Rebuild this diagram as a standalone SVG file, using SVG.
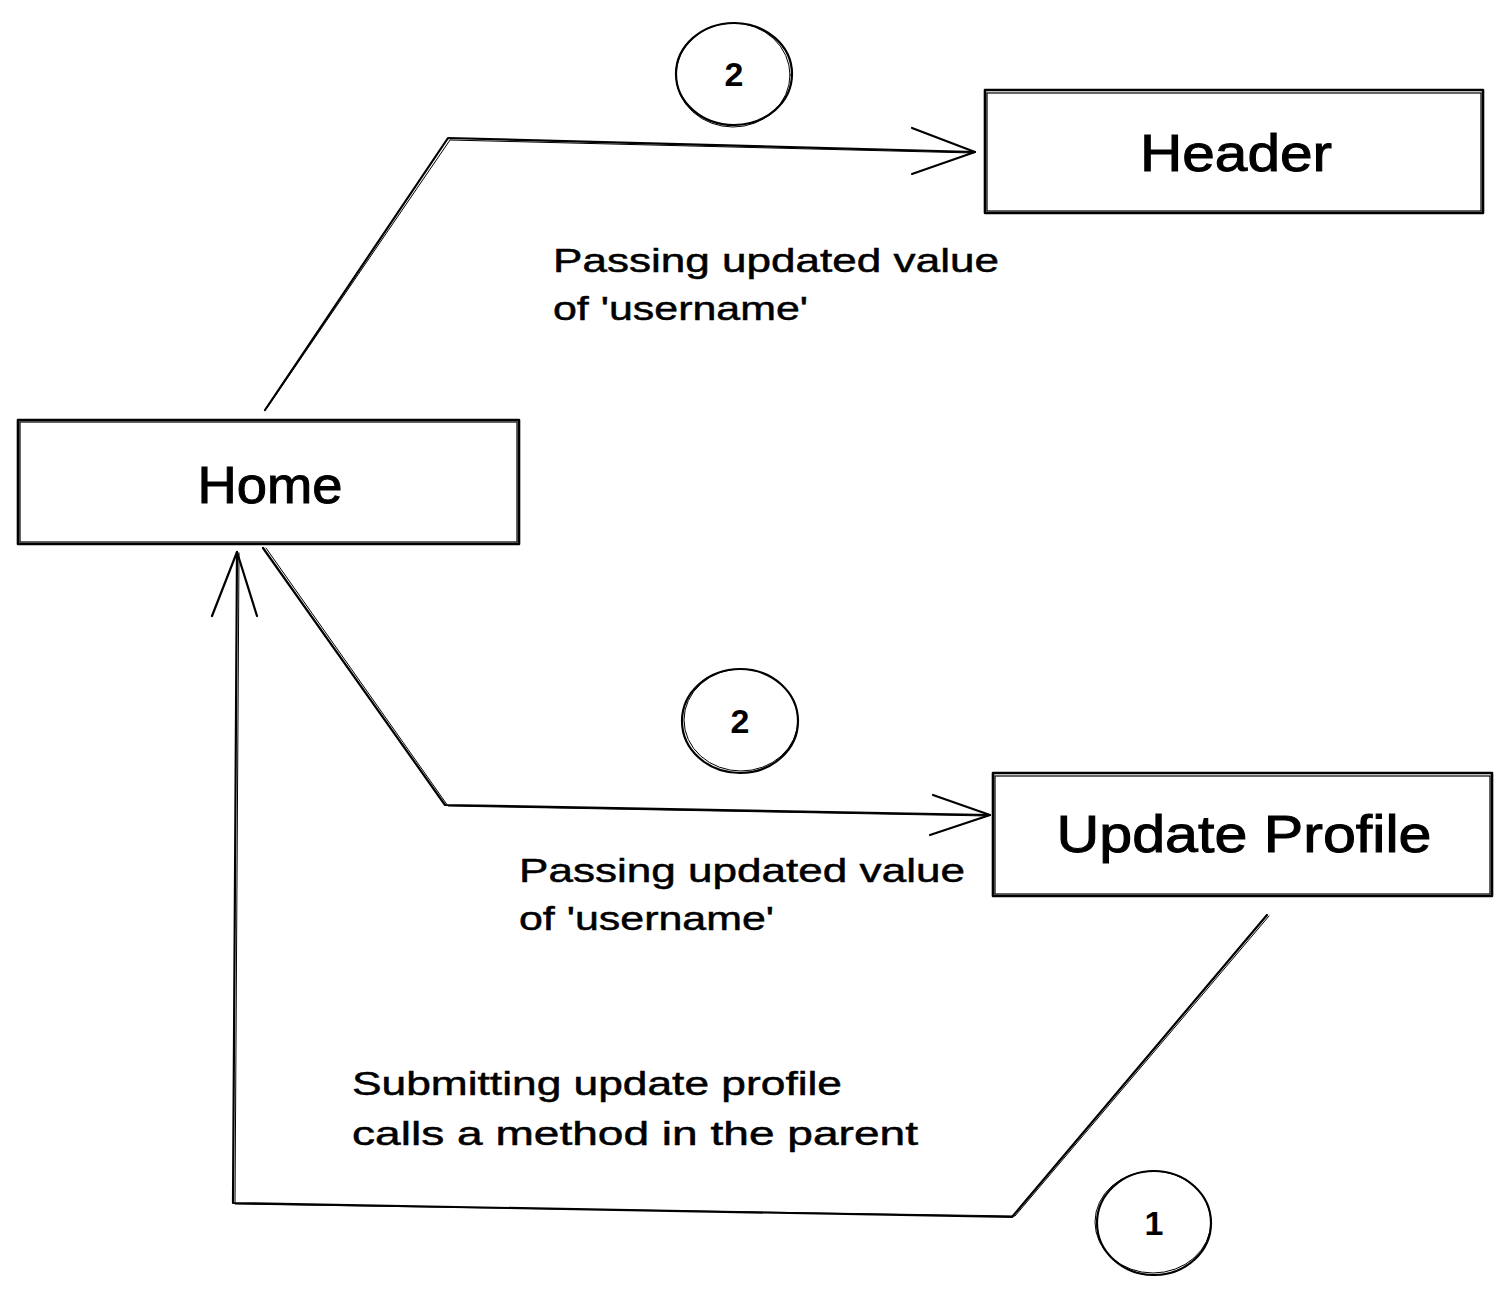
<svg xmlns="http://www.w3.org/2000/svg" width="1512" height="1295" viewBox="0 0 1512 1295">
<style>
.box{fill:none;stroke:#000;stroke-width:2.6;stroke-linejoin:round}
.box2{fill:none;stroke:#000;stroke-width:1.2}
.ln{fill:none;stroke:#000;stroke-width:2.2;stroke-linecap:round;stroke-linejoin:round}
.ln2{fill:none;stroke:#000;stroke-width:1;stroke-linecap:round;stroke-linejoin:round}
.lbl{font-family:"Liberation Sans",Arial,sans-serif;font-size:52px;fill:#000;stroke:#000;stroke-width:1;text-anchor:middle}
.txt{font-family:"Liberation Sans",Arial,sans-serif;font-size:34px;fill:#000;stroke:#000;stroke-width:0.5}
.num{font-family:"Liberation Sans",Arial,sans-serif;font-size:34px;font-weight:bold;fill:#000;text-anchor:middle}
</style>
<rect width="1512" height="1295" fill="#fff"/>
<g id="connectors">
  <g id="edge-home-header">
    <polyline class="ln" points="265,410 448,138 975,152"/>
    <polyline class="ln2" points="267,408 450,140 973,153"/>
    <polyline class="ln" points="912,128 975,152 912,174"/>
  </g>
  <g id="edge-home-update">
    <polyline class="ln" points="263,548 445,805 990,815"/>
    <polyline class="ln2" points="266,548 448,806 988,816"/>
    <polyline class="ln" points="933,795 990,815 930,835"/>
  </g>
  <g id="edge-update-home">
    <polyline class="ln" points="1267,915 1012,1217 233,1203 237,552"/>
    <polyline class="ln2" points="1269,916 1015,1216 235,1204 239,553"/>
    <polyline class="ln" points="212,616 237,552 257,616"/>
  </g>
</g>
<g id="node-header">
  <rect class="box" x="985" y="90" width="498" height="123"/>
  <rect class="box2" x="987" y="93" width="494" height="118"/>
  <text class="lbl" x="1236" y="171" textLength="192" lengthAdjust="spacingAndGlyphs">Header</text>
</g>
<g id="node-home">
  <rect class="box" x="18" y="420" width="501" height="124"/>
  <rect class="box2" x="20" y="422" width="497" height="120"/>
  <text class="lbl" x="270" y="503" textLength="145" lengthAdjust="spacingAndGlyphs">Home</text>
</g>
<g id="node-update">
  <rect class="box" x="993" y="773" width="499" height="123"/>
  <rect class="box2" x="995" y="776" width="495" height="118"/>
  <text class="lbl" x="1244" y="852" textLength="375" lengthAdjust="spacingAndGlyphs">Update Profile</text>
</g>
<g id="circle-top">
  <ellipse class="ln" cx="734" cy="74" rx="58" ry="51"/>
  <ellipse class="ln2" cx="733" cy="75" rx="57" ry="52"/>
  <text class="num" x="734" y="86">2</text>
</g>
<g id="circle-mid">
  <ellipse class="ln" cx="740" cy="721" rx="58" ry="52"/>
  <ellipse class="ln2" cx="741" cy="720" rx="57" ry="51"/>
  <text class="num" x="740" y="733">2</text>
</g>
<g id="circle-one">
  <ellipse class="ln" cx="1154" cy="1223" rx="57" ry="52"/>
  <ellipse class="ln2" cx="1153" cy="1222" rx="58" ry="51"/>
  <text class="num" x="1154" y="1235">1</text>
</g>
<g id="label-top">
  <text class="txt" x="553" y="272" textLength="446" lengthAdjust="spacingAndGlyphs">Passing updated value</text>
  <text class="txt" x="553" y="320" textLength="255" lengthAdjust="spacingAndGlyphs">of 'username'</text>
</g>
<g id="label-mid">
  <text class="txt" x="519" y="882" textLength="446" lengthAdjust="spacingAndGlyphs">Passing updated value</text>
  <text class="txt" x="519" y="930" textLength="255" lengthAdjust="spacingAndGlyphs">of 'username'</text>
</g>
<g id="label-bottom">
  <text class="txt" x="352" y="1095" textLength="490" lengthAdjust="spacingAndGlyphs">Submitting update profile</text>
  <text class="txt" x="352" y="1145" textLength="566" lengthAdjust="spacingAndGlyphs">calls a method in the parent</text>
</g>
</svg>
